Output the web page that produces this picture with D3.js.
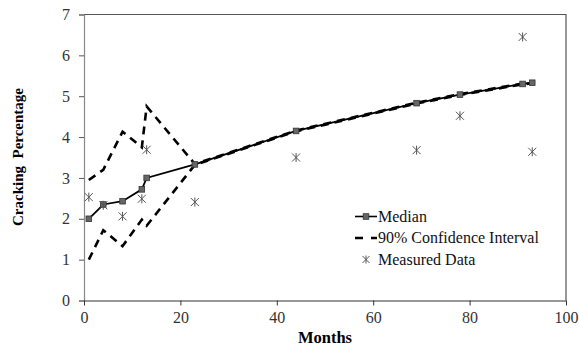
<!DOCTYPE html>
<html>
<head>
<meta charset="utf-8">
<script src="https://cdn.jsdelivr.net/npm/d3@7"></script>
<style>
  html, body { margin: 0; padding: 0; background: #fff; }
  svg { display: block; }
  svg text { font-family: "Liberation Serif", "Times New Roman", serif !important; }
</style>
</head>
<body>
<svg id="chart" width="579" height="348"></svg>
<script>
// Months at which the model and field data are reported
const months = [1, 4, 8, 12, 13, 23, 44, 69, 78, 91, 93];
// Predicted median cracking (%)
const median = [2.0, 2.35, 2.43, 2.72, 3.0, 3.33, 4.15, 4.83, 5.04, 5.3, 5.33];
// 90% confidence band (%)
const upper = [2.95, 3.2, 4.13, 3.75, 4.75, 3.34, 4.16, 4.84, 5.05, 5.31, 5.34];
const lower = [1.0, 1.72, 1.33, 1.98, 1.83, 3.32, 4.14, 4.82, 5.03, 5.29, 5.32];
// Field measurements (%)
const measuredMonths = [1, 4, 8, 12, 13, 23, 44, 69, 78, 91, 93];
const measured = [2.53, 2.33, 2.06, 2.49, 3.69, 2.41, 3.5, 3.68, 4.52, 6.45, 3.64];
// Axis ticks
const xTicks = [0, 20, 40, 60, 80, 100];
const yTicks = [0, 1, 2, 3, 4, 5, 6, 7];
const legendItems = ["Median", "90% Confidence Interval", "Measured Data"];

const serif = "'Liberation Serif', 'Times New Roman', serif";
const svg = d3.select("#chart");
const plotLeft = 84, plotRight = 566, plotTop = 14.5, plotBottom = 300.5;

const x = d3.scaleLinear().domain([0, 100]).range([plotLeft, plotRight]);
const y = d3.scaleLinear().domain([0, 7]).range([plotBottom, plotTop]);

// Plot frame (top and right edges)
svg.append("path")
  .attr("d", `M${plotLeft},${plotTop}H${plotRight}V${plotBottom}`)
  .attr("fill", "none").attr("stroke", "#555").attr("stroke-width", 1.2);

// Y axis
const yAxis = svg.append("g").attr("transform", `translate(${plotLeft},0)`)
  .call(d3.axisLeft(y).tickValues(yTicks).tickSize(5).tickPadding(9).tickFormat(d3.format("d")));
yAxis.attr("font-family", serif);
yAxis.select(".domain").attr("stroke", "#888").attr("stroke-width", 1.2);
yAxis.selectAll(".tick line").attr("stroke", "#555");
yAxis.selectAll(".tick text").attr("font-size", 16).attr("fill", "#333");

// X axis
const xAxis = svg.append("g").attr("transform", `translate(0,${plotBottom})`)
  .call(d3.axisBottom(x).tickValues(xTicks).tickSize(5).tickSizeOuter(0).tickPadding(6).tickFormat(d3.format("d")));
xAxis.attr("font-family", serif);
xAxis.select(".domain").attr("stroke", "#333").attr("stroke-width", 1.2);
xAxis.selectAll(".tick line").attr("stroke", "#333");
xAxis.selectAll(".tick text").attr("font-size", 16).attr("fill", "#333");

// Axis titles
svg.append("text")
  .attr("x", 325).attr("y", 343)
  .attr("text-anchor", "middle").attr("font-weight", "bold").attr("font-size", 16.5)
  .text("Months");
svg.append("text")
  .attr("transform", "translate(23,157) rotate(-90)")
  .attr("text-anchor", "middle").attr("font-weight", "bold").attr("font-size", 15)
  .style("white-space", "pre")
  .text("Cracking  Percentage");

const line = d3.line().x(d => x(d[0])).y(d => y(d[1]));

// Confidence band limits
[upper, lower].forEach(arr => {
  svg.append("path")
    .datum(months.map((m, i) => [m, arr[i]]))
    .attr("d", line)
    .attr("fill", "none").attr("stroke", "#000")
    .attr("stroke-width", 2.6).attr("stroke-dasharray", "8,6");
});

// Median line with square markers
svg.append("path")
  .datum(months.map((m, i) => [m, median[i]]))
  .attr("d", line)
  .attr("fill", "none").attr("stroke", "#000").attr("stroke-width", 1.8);
svg.append("g").selectAll("rect")
  .data(months.map((m, i) => [m, median[i]]))
  .join("rect")
  .attr("x", d => x(d[0]) - 2.8).attr("y", d => y(d[1]) - 2.8)
  .attr("width", 5.6).attr("height", 5.6)
  .attr("fill", "#666").attr("stroke", "#333").attr("stroke-width", 0.8);

// Asterisk marker
function star(g, cx, cy, r) {
  const p = `M${cx - r},${cy - r}L${cx + r},${cy + r}M${cx - r},${cy + r}L${cx + r},${cy - r}M${cx},${cy - r - 0.5}L${cx},${cy + r + 0.5}`;
  g.append("path").attr("d", p).attr("stroke", "#555").attr("stroke-width", 1).attr("fill", "none");
}
const ms = svg.append("g");
measuredMonths.forEach((m, i) => star(ms, x(m), y(measured[i]), 4));

// Legend
const lg = svg.append("g").attr("font-size", 16).attr("fill", "#111");
const lx0 = 355, lx1 = 377, tx = 378, rows = [216.5, 238, 259.5];
lg.append("line").attr("x1", lx0).attr("x2", lx1).attr("y1", rows[0]).attr("y2", rows[0])
  .attr("stroke", "#000").attr("stroke-width", 1.6);
lg.append("rect").attr("x", 366 - 2.8).attr("y", rows[0] - 2.8).attr("width", 5.6).attr("height", 5.6)
  .attr("fill", "#666").attr("stroke", "#333").attr("stroke-width", 0.8);
lg.append("line").attr("x1", lx0).attr("x2", lx1).attr("y1", rows[1]).attr("y2", rows[1])
  .attr("stroke", "#000").attr("stroke-width", 2.6).attr("stroke-dasharray", "8,8");
star(lg, 366, rows[2], 3.5);
legendItems.forEach((t, i) => {
  lg.append("text").attr("x", tx).attr("y", rows[i] + 5).text(t);
});
</script>
</body>
</html>
